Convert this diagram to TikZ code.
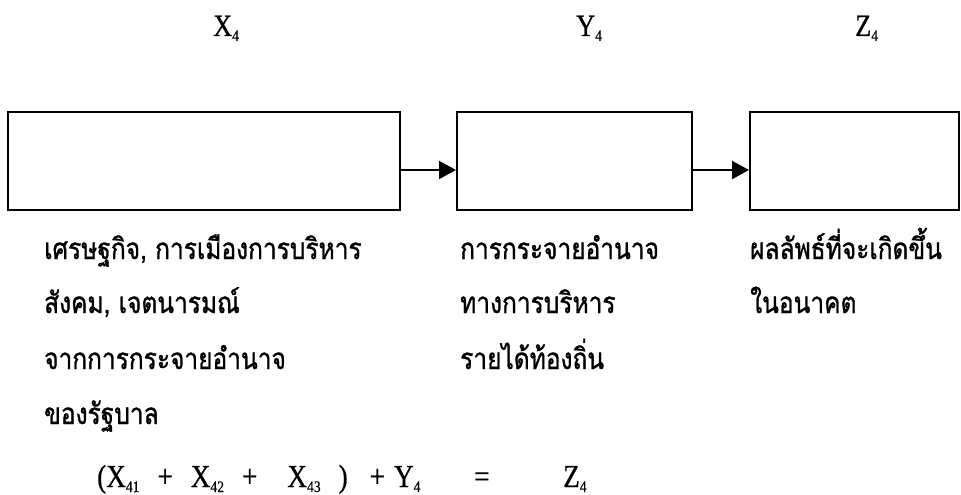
\documentclass[tikz,border=0pt]{standalone}
\usepackage{fontspec}
\setmainfont{Liberation Serif}
\newfontfamily\thaifont[Script=Thai,FakeBold=1.2]{Loma}
\newfontfamily\condfont[FakeStretch=0.85,FakeBold=0.6]{Liberation Serif}
\usetikzlibrary{arrows.meta}
\newcommand{\thailine}[1]{\scalebox{1}[1.2]{#1}}
\newcommand{\subs}[1]{\raisebox{-5pt}{\fontsize{16}{16}\selectfont #1}}
\newcommand{\gap}[1]{\hspace*{#1pt}}
\begin{document}
\begin{tikzpicture}[x=1pt,y=-1pt,
  box/.style={draw,line width=2pt,inner sep=0pt},
  arr/.style={line width=2.2pt,-{Triangle[length=17pt,width=18pt]}},
  thai/.style={anchor=base west,inner sep=0pt,font=\thaifont\fontsize{24.5}{28}\selectfont},
  lab/.style={anchor=base west,inner sep=0pt,font=\condfont\fontsize{31}{34}\selectfont},
  eq/.style={anchor=base west,inner sep=0pt,font=\condfont\fontsize{32}{35}\selectfont}]
\useasboundingbox (0,0) rectangle (961,495);
\node[lab] (lx) at (213,36) {X\subs{4}};
\node[lab] (ly) at (576,36) {Y\subs{4}};
\node[lab] (lz) at (855,36) {Z\subs{4}};
\node[box,minimum width=392pt,minimum height=98pt] (b1) at (204,161) {};
\node[box,minimum width=235pt,minimum height=98pt] (b2) at (574.5,161) {};
\node[box,minimum width=209pt,minimum height=98pt] (b3) at (854.5,161) {};
\draw[arr] ([yshift=-9pt]b1.east) -- ([yshift=-9pt]b2.west);
\draw[arr] ([yshift=-9pt]b2.east) -- ([yshift=-9pt]b3.west);
\node[thai] (t11) at (44,259) {\thailine{เศรษฐกิจ, การเมืองการบริหาร}};
\node[thai] (t12) at (44,313) {\thailine{สังคม, เจตนารมณ์}};
\node[thai] (t13) at (44,369) {\thailine{จากการกระจายอำนาจ}};
\node[thai] (t14) at (44,424) {\thailine{ของรัฐบาล}};
\node[thai] (t21) at (460,259) {\thailine{การกระจายอำนาจ}};
\node[thai] (t22) at (460,313) {\thailine{ทางการบริหาร}};
\node[thai] (t23) at (460,369) {\thailine{รายได้ท้องถิ่น}};
\node[thai] (t31) at (750,259) {\thailine{ผลลัพธ์ที่จะเกิดขึ้น}};
\node[thai] (t32) at (750,313) {\thailine{ในอนาคต}};
\node[eq] (e1) at (97,487) {(X\subs{41}\gap{18}+\gap{18}X\subs{42}\gap{18}+\gap{30}X\subs{43}\gap{18})\gap{22}+\gap{9}Y\subs{4}};
\node[eq] (e2) at (474,487) {=};
\node[eq] (e3) at (563,487) {Z\subs{4}};
\end{tikzpicture}
\end{document}
